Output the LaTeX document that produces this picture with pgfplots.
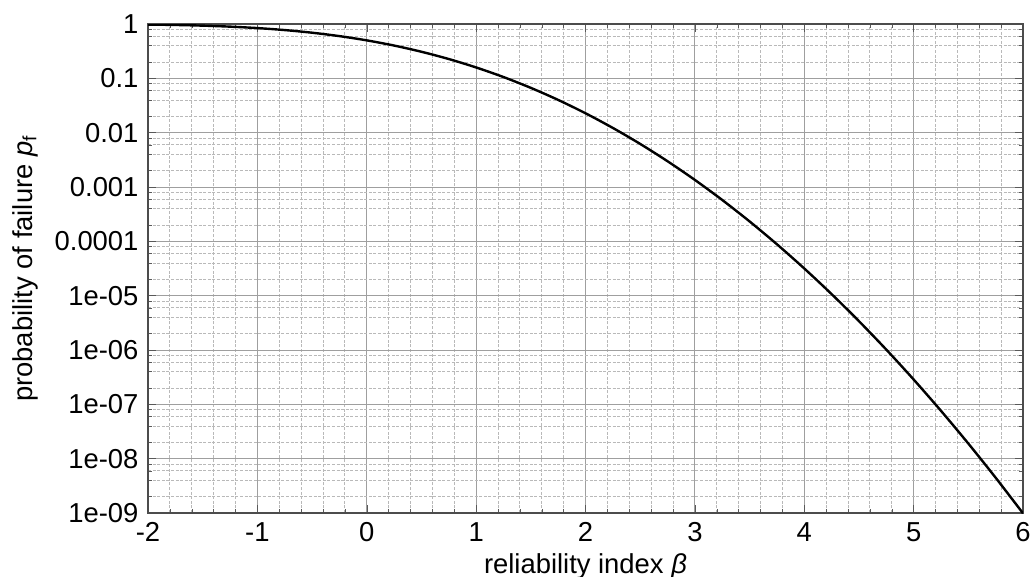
\documentclass[border=0pt]{standalone}
\usepackage{pgfplots}
\pgfplotsset{compat=1.18}
\usepackage{fontspec}
\setmainfont{Liberation Sans}
\begin{document}
\fontsize{13.7}{16}\selectfont
\begin{tikzpicture}
\begin{axis}[
  scale only axis,
  width=437.5pt, height=244.5pt,
  xmin=-2, xmax=6,
  ymode=log, ymin=1e-9, ymax=1,
  xtick={-2,-1,0,1,2,3,4,5,6},
  minor x tick num=4,
  ytick={1e-9,1e-8,1e-7,1e-6,1e-5,1e-4,1e-3,1e-2,1e-1,1},
  yticklabels={1e-09,1e-08,1e-07,1e-06,1e-05,0.0001,0.001,0.01,0.1,1},
  minor ytick={2e-9,4e-9,6e-9,8e-9,2e-8,4e-8,6e-8,8e-8,2e-7,4e-7,6e-7,8e-7,2e-6,4e-6,6e-6,8e-6,2e-5,4e-5,6e-5,8e-5,2e-4,4e-4,6e-4,8e-4,2e-3,4e-3,6e-3,8e-3,2e-2,4e-2,6e-2,8e-2,0.2,0.4,0.6,0.8},
  xticklabels={-2,-1,0,1,2,3,4,5,6},
  grid=both,
  major grid style={gray!75, line width=0.5pt},
  minor grid style={gray!55, dash pattern=on 1.5pt off 0.8pt, line width=0.4pt},
  axis line style={gray!60!black, line width=0.6pt},
  tick style={gray!70!black},
  tick align=inside,
  major tick length=4pt, minor tick length=2pt,
  xlabel={reliability index \textit{β}},
  ylabel={probability of failure \textit{p}\textsubscript{f}},
  xlabel style={at={(axis description cs:0.5,0)}, anchor=center, yshift=-26.5pt},
  ylabel style={at={(axis description cs:0,0.5)}, anchor=center, yshift=61.5pt},
  tick label style={font=\fontsize{13.7}{16}\selectfont},
  label style={font=\fontsize{13.7}{16}\selectfont},
  clip=true,
]
\addplot[black, line width=1.2pt, smooth] coordinates {
(-2,0.97725) (-1.75,0.95994) (-1.5,0.93319) (-1.25,0.89435) (-1,0.84134)
(-0.75,0.77337) (-0.5,0.69146) (-0.25,0.59871) (0,0.5) (0.25,0.40129)
(0.5,0.30854) (0.75,0.22663) (1,0.15866) (1.25,0.10565) (1.5,0.066807)
(1.75,0.040059) (2,0.02275) (2.25,0.012224) (2.5,0.0062097) (2.75,0.0029798)
(3,0.0013499) (3.25,5.7703e-4) (3.5,2.3263e-4) (3.75,8.8417e-5) (4,3.1671e-5)
(4.25,1.0689e-5) (4.5,3.3977e-6) (4.75,1.0171e-6) (5,2.8665e-7) (5.25,7.6049e-8)
(5.5,1.8990e-8) (5.75,4.4622e-9) (6,9.8659e-10)
};
\end{axis}
\pgfresetboundingbox
\path (current axis.south west) ++(-74pt,-32pt) coordinate (bl);
\path (current axis.north east) ++(6pt,12pt) coordinate (tr);
\useasboundingbox (bl) rectangle (tr);
\end{tikzpicture}
\end{document}
